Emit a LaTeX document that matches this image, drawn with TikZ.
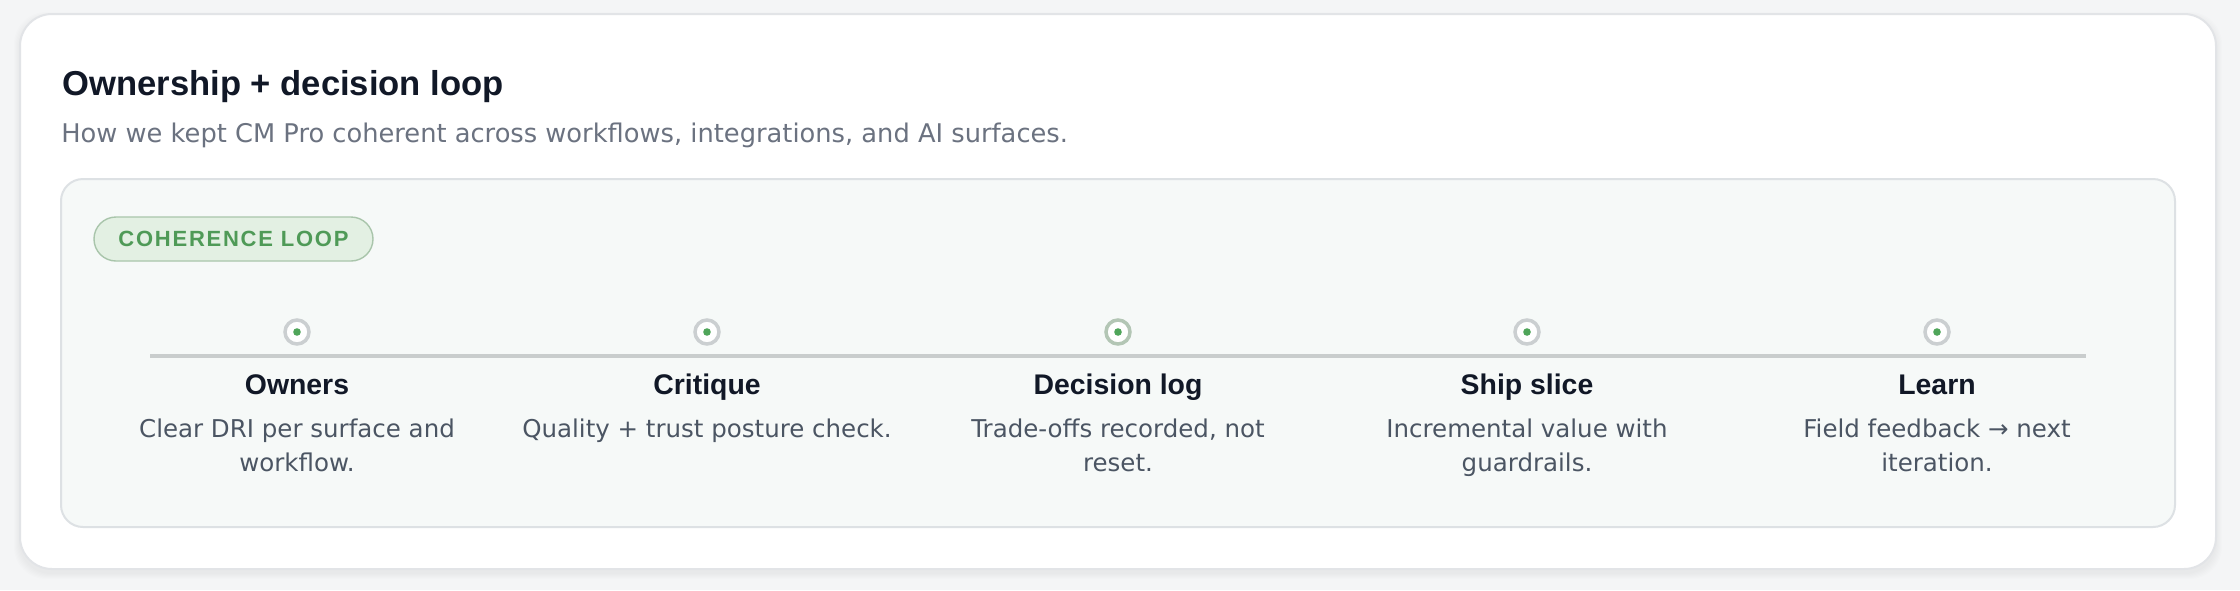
\documentclass[tikz,border=0pt]{standalone}
\usepackage{fontspec}
\setmainfont{DejaVu Sans}
\newfontfamily\headfont{Liberation Sans}
\newfontfamily\badgefont[LetterSpace=8]{Liberation Sans}
\definecolor{pagebg}{HTML}{F4F5F6}
\definecolor{cardedge}{HTML}{E2E4E7}
\definecolor{panelbg}{HTML}{F6F9F8}
\definecolor{paneledge}{HTML}{DDE1E4}
\definecolor{ink}{HTML}{111827}
\definecolor{subgray}{HTML}{6B7280}
\definecolor{bodygray}{HTML}{4B5563}
\definecolor{badgefill}{HTML}{E3F0E3}
\definecolor{badgeedge}{HTML}{A9C5AB}
\definecolor{badgetext}{HTML}{4F9A57}
\definecolor{dotgreen}{HTML}{4FA55A}
\definecolor{ringgray}{HTML}{CBCFD1}
\definecolor{ringgreen}{HTML}{B3C6B5}
\definecolor{linegray}{HTML}{C9CDCD}
\tikzset{
  card/.style={fill=white, draw=cardedge, line width=1pt, rounded corners=16pt},
  panel/.style={fill=panelbg, draw=paneledge, line width=1pt, rounded corners=11pt},
  titletext/.style={font=\headfont\bfseries\fontsize{17.3pt}{20pt}\selectfont, text=ink, anchor=base west, inner sep=0pt},
  subtext/.style={font=\fontsize{12.86pt}{16pt}\selectfont, text=subgray, anchor=base west, inner sep=0pt},
  badge/.style={fill=badgefill, draw=badgeedge, line width=0.7pt, rounded corners=11pt, minimum width=139.5pt, minimum height=22pt, inner sep=0pt, text=badgetext, font=\badgefont\bfseries\fontsize{11pt}{13pt}\selectfont},
  track/.style={draw=linegray, line width=2pt},
  ring/.style={circle, draw=ringgray, line width=1.75pt, fill=white, minimum size=12pt, inner sep=0pt},
  ringhi/.style={ring, draw=ringgreen},
  dot/.style={circle, fill=dotgreen, minimum size=3.8pt, inner sep=0pt},
  steptitle/.style={font=\headfont\bfseries\fontsize{14.2pt}{17pt}\selectfont, text=ink, anchor=base, inner sep=0pt},
  stepdesc/.style={font=\fontsize{12.25pt}{17pt}\selectfont, text=bodygray, anchor=base, inner sep=0pt}
}
\begin{document}
\begin{tikzpicture}[x=0.5pt,y=-0.5pt]
\useasboundingbox (0,0) rectangle (2240,590);
\fill[pagebg] (0,0) rectangle (2240,590);
% soft shadow
\foreach \k in {1,...,6}{
  \fill[black, opacity=0.009, rounded corners=16pt] (20-\k,14-\k+4) rectangle (2216+\k,569+\k+4);
}
\draw[card] (20,14) rectangle (2216,569);
\node[titletext] (title) at (62,95) {Ownership + decision loop};
\node[subtext] (sub) at (61,142) {How we kept CM Pro coherent across workflows, integrations, and AI surfaces.};
\draw[panel] (61,179) rectangle (2175,527);
\node[badge] (badge) at (233.5,239) {COHERENCE LOOP};
\coordinate (ls) at (150,356);
\coordinate (le) at (2086,356);
\draw[track] (ls) -- (le);
% markers
\node[ring] (c1) at (297,332) {};
\node[ring] (c2) at (707,332) {};
\node[ringhi] (c3) at (1118,332) {};
\node[ring] (c4) at (1527,332) {};
\node[ring] (c5) at (1937,332) {};
\node[dot] (d1) at (c1) {};
\node[dot] (d2) at (c2) {};
\node[dot] (d3) at (c3) {};
\node[dot] (d4) at (c4) {};
\node[dot] (d5) at (c5) {};
% titles
\node[steptitle] (t1) at (297,394) {Owners};
\node[steptitle] (t2) at (707,394) {Critique};
\node[steptitle] (t3) at (1118,394) {Decision log};
\node[steptitle] (t4) at (1527,394) {Ship slice};
\node[steptitle] (t5) at (1937,394) {Learn};
% descriptions
\node[stepdesc] (s1a) at (297,437) {Clear DRI per surface and};
\node[stepdesc] (s1b) at (297,471) {workflow.};
\node[stepdesc] (s2a) at (707,437) {Quality + trust posture check.};
\node[stepdesc] (s3a) at (1118,437) {Trade-offs recorded, not};
\node[stepdesc] (s3b) at (1118,471) {reset.};
\node[stepdesc] (s4a) at (1527,437) {Incremental value with};
\node[stepdesc] (s4b) at (1527,471) {guardrails.};
\node[stepdesc] (s5a) at (1937,437) {Field feedback → next};
\node[stepdesc] (s5b) at (1937,471) {iteration.};
\end{tikzpicture}
\end{document}
